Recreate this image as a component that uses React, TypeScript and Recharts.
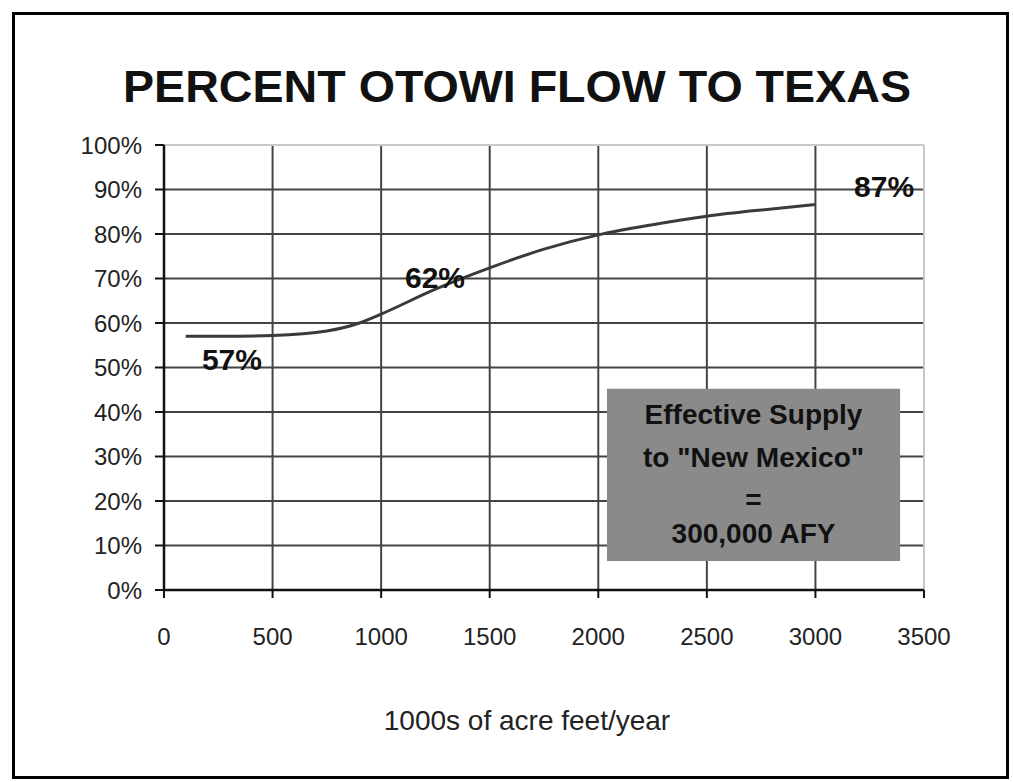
import {
  LineChart, Line, XAxis, YAxis, CartesianGrid, ReferenceLine, ReferenceDot, ReferenceArea, Customized,
} from "recharts";

// 1000s of acre feet/year → percent of Otowi flow delivered to Texas
const flowX = [100, 250, 500, 750, 900, 1000, 1250, 1500, 1750, 2000, 2250, 2500, 2750, 3000];
const pctToTexas = [57, 57, 57.2, 58.2, 60, 62, 67.6, 72.4, 76.6, 79.8, 82.1, 84, 85.4, 86.6];

const xTicks = [0, 500, 1000, 1500, 2000, 2500, 3000, 3500];
const yTicks = [0, 10, 20, 30, 40, 50, 60, 70, 80, 90, 100];

// call-outs placed in data units
const calloutText = ["57%", "62%", "87%"];
const calloutX = [313, 1248, 3316];
const calloutY = [51.9, 70.3, 90.8];

const boxLines = ["Effective Supply", "to \"New Mexico\"", "=", "300,000 AFY"];
const boxX = [2040, 3390];
const boxY = [6.5, 45.2];

const TITLE = "PERCENT OTOWI FLOW TO TEXAS";
const X_TITLE = "1000s of acre feet/year";
const FONT = "'Liberation Sans', Arial, sans-serif";

const data = flowX.map((x, i) => ({ x, pct: pctToTexas[i] }));

const W = 1013;
const H = 782;

function BoxText({ viewBox }: { viewBox?: { x: number; y: number; width: number; height: number } }) {
  if (!viewBox) return null;
  const cx = viewBox.x + viewBox.width / 2;
  const baselines = [35, 78, 120, 154];
  return (
    <g>
      {boxLines.map((t, i) => (
        <text
          key={i}
          x={cx}
          y={viewBox.y + baselines[i]}
          textAnchor="middle"
          fontFamily={FONT}
          fontWeight={700}
          fontSize={28}
          fill="#111"
        >
          {t}
        </text>
      ))}
    </g>
  );
}

function Decorations() {
  return (
    <g>
      <rect x={13.5} y={13.5} width={994} height={764} fill="none" stroke="#000" strokeWidth={3} />
      <text
        x={517}
        y={102}
        textAnchor="middle"
        fontFamily={FONT}
        fontWeight={700}
        fontSize={44}
        textLength={788}
        lengthAdjust="spacingAndGlyphs"
        fill="#111"
      >
        {TITLE}
      </text>
      <text x={527} y={730} textAnchor="middle" fontFamily={FONT} fontSize={28} fill="#222">
        {X_TITLE}
      </text>
    </g>
  );
}

export default function App() {
  return (
    <div style={{ position: "absolute", left: 0, top: 0, width: W, height: H, background: "#fff" }}>
      <LineChart
        width={W}
        height={H}
        data={data}
        margin={{ top: 145, right: 89, bottom: 132, left: 84 }}
      >
        <CartesianGrid stroke="#444" strokeWidth={2} />
        <ReferenceLine y={100} stroke="#c8c8c8" strokeWidth={2} />
        <ReferenceLine x={3500} stroke="#c8c8c8" strokeWidth={2} />
        <XAxis
          type="number"
          dataKey="x"
          domain={[0, 3500]}
          ticks={xTicks}
          height={60}
          tickSize={8}
          tickMargin={30}
          axisLine={{ stroke: "#111", strokeWidth: 2.5 }}
          tickLine={{ stroke: "#111", strokeWidth: 2 }}
          tick={{ fill: "#222", fontSize: 24, fontFamily: FONT }}
          interval={0}
        />
        <YAxis
          type="number"
          domain={[0, 100]}
          ticks={yTicks}
          width={80}
          tickSize={9}
          tickMargin={13}
          tickFormatter={(v: number) => `${v}%`}
          axisLine={{ stroke: "#111", strokeWidth: 2.5 }}
          tickLine={{ stroke: "#111", strokeWidth: 2 }}
          tick={{ fill: "#222", fontSize: 24, fontFamily: FONT }}
          interval={0}
        />
        <ReferenceArea
          x1={boxX[0]}
          x2={boxX[1]}
          y1={boxY[0]}
          y2={boxY[1]}
          fill="#8a8a8a"
          fillOpacity={1}
          stroke="none"
          label={<BoxText />}
        />
        <Line
          type="monotone"
          dataKey="pct"
          stroke="#3a3a3a"
          strokeWidth={3}
          dot={false}
          isAnimationActive={false}
        />
        {calloutText.map((t, i) => (
          <ReferenceDot
            key={t}
            x={calloutX[i]}
            y={calloutY[i]}
            r={0}
            fill="none"
            stroke="none"
            label={{
              value: t,
              position: "center",
              fill: "#111",
              fontSize: 30,
              fontWeight: 700,
              fontFamily: FONT,
            }}
          />
        ))}
        <Customized component={Decorations} />
      </LineChart>
    </div>
  );
}
